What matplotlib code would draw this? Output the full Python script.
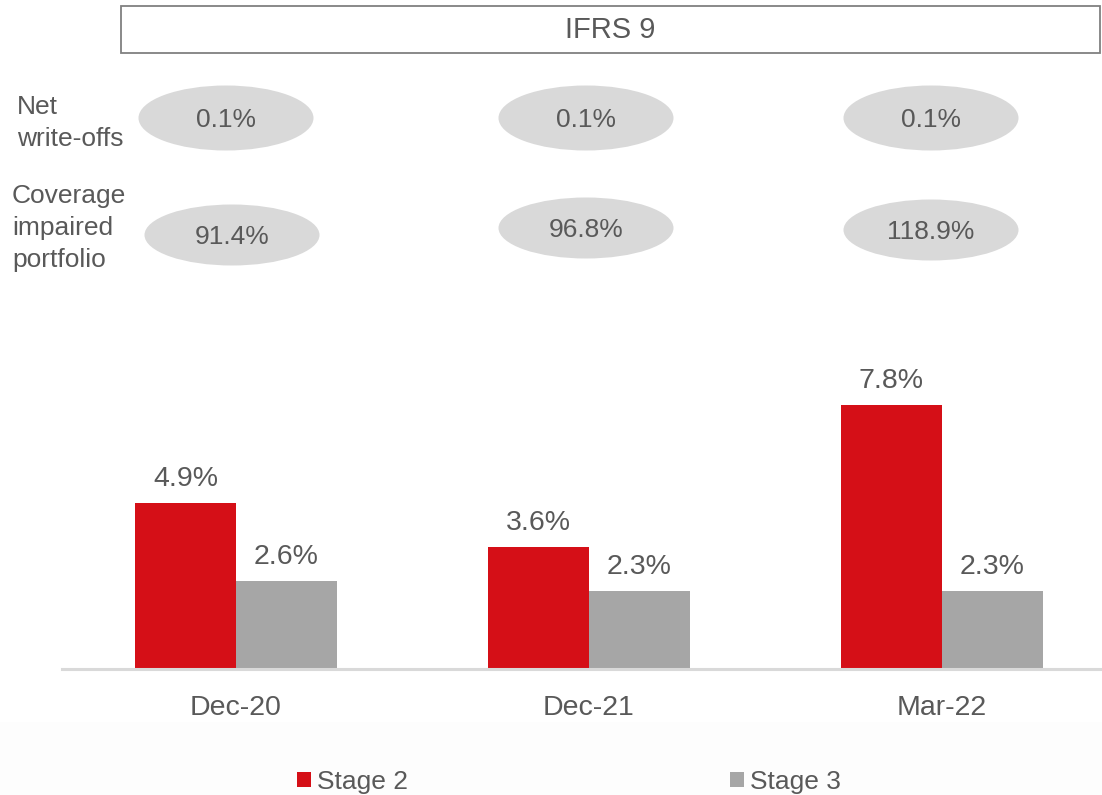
import matplotlib
matplotlib.use("Agg")
import matplotlib.pyplot as plt
from matplotlib.patches import Ellipse, Rectangle, Patch
import numpy as np

plt.rcParams['font.family'] = ['Liberation Sans', 'DejaVu Sans']

# ---- data ----
categories = ['Dec-20', 'Dec-21', 'Mar-22']
stage2 = [4.9, 3.6, 7.8]
stage3 = [2.6, 2.3, 2.3]
net_writeoffs = [0.1, 0.1, 0.1]
coverage = [91.4, 96.8, 118.9]
series_names = ['Stage 2', 'Stage 3']
header = 'IFRS 9'
row_labels = ['Net\nwrite-offs', 'Coverage\nimpaired\nportfolio']

RED = '#d50f17'
GREY = '#a6a6a6'
TXT = '#595959'

W, H = 1102, 795
fig = plt.figure(figsize=(W / 100, H / 100), dpi=100)

# overlay in pixel coordinates
ov = fig.add_axes([0, 0, 1, 1])
ov.set_xlim(0, W)
ov.set_ylim(H, 0)
ov.axis('off')
ov.add_patch(Rectangle((0, 722), W, H - 722, facecolor='#fdfdfd', edgecolor='none', zorder=0))

# header box
ov.add_patch(Rectangle((121, 6), 979, 47, facecolor='white', edgecolor='#808080', lw=1.3, zorder=2))
ov.text(610, 30, header, ha='center', va='center', fontsize=21, color=TXT, zorder=3)

# row labels
ov.text(17, 123, row_labels[0], ha='left', va='center', fontsize=19, color=TXT, linespacing=1.42)
ov.text(12, 228, row_labels[1], ha='left', va='center', fontsize=19, color=TXT, linespacing=1.42)

# ellipses
row1_x = [226, 586, 931]
row2_x = [232, 586, 931]
row1_y = [118, 118, 118]
row2_y = [235, 228, 230]
for x, y, v in zip(row1_x, row1_y, net_writeoffs):
    ov.add_patch(Ellipse((x, y), 175, 65, facecolor='#d9d9d9', edgecolor='none', zorder=2))
    ov.text(x, y + 2, f'{v:.1f}%', ha='center', va='center', fontsize=19, color=TXT, zorder=3)
for x, y, v in zip(row2_x, row2_y, coverage):
    ov.add_patch(Ellipse((x, y), 175, 61, facecolor='#d9d9d9', edgecolor='none', zorder=2))
    ov.text(x, y + 2, f'{v:.1f}%', ha='center', va='center', fontsize=19, color=TXT, zorder=3)

# bar axes
px_per_unit = 33.8
ax_top_px, base_px = 300, 669
ax = fig.add_axes([62 / W, (H - base_px) / H, 1038 / W, (base_px - ax_top_px) / H])
ax.set_ylim(0, (base_px - ax_top_px) / px_per_unit)
ax.set_xlim(-0.493, 2.448)
ax.patch.set_alpha(0)

x = np.arange(len(categories))
w = 0.286
b2 = ax.bar(x - w / 2, stage2, w, color=RED, label=series_names[0], zorder=2)
b3 = ax.bar(x + w / 2, stage3, w, color=GREY, label=series_names[1], zorder=2)
for bars, vals in ((b2, stage2), (b3, stage3)):
    for r, v in zip(bars, vals):
        ax.annotate(f'{v:.1f}%', (r.get_x() + r.get_width() / 2, v), xytext=(0, 17.5),
                    textcoords='offset points', ha='center', va='center', fontsize=20.5, color=TXT)

for s in ['top', 'right', 'left']:
    ax.spines[s].set_visible(False)
ax.spines['bottom'].set_color('#d9d9d9')
ax.spines['bottom'].set_linewidth(2.2)
ax.set_yticks([])
ax.set_xticks(x)
ax.set_xticklabels(categories, fontsize=20.5, color=TXT)
ax.tick_params(axis='x', length=0, pad=19)

# legend
handles = [Patch(facecolor=RED, edgecolor='none'), Patch(facecolor=GREY, edgecolor='none')]
fig.legend(handles, series_names, loc='center left', bbox_to_anchor=(297 / W, 1 - 782 / H),
           ncol=2, frameon=False, fontsize=19, labelcolor=TXT,
           handlelength=0.53, handleheight=0.53, handletextpad=0.23,
           columnspacing=12.2, borderpad=0, borderaxespad=0)

fig.savefig('out.png', dpi=100)
